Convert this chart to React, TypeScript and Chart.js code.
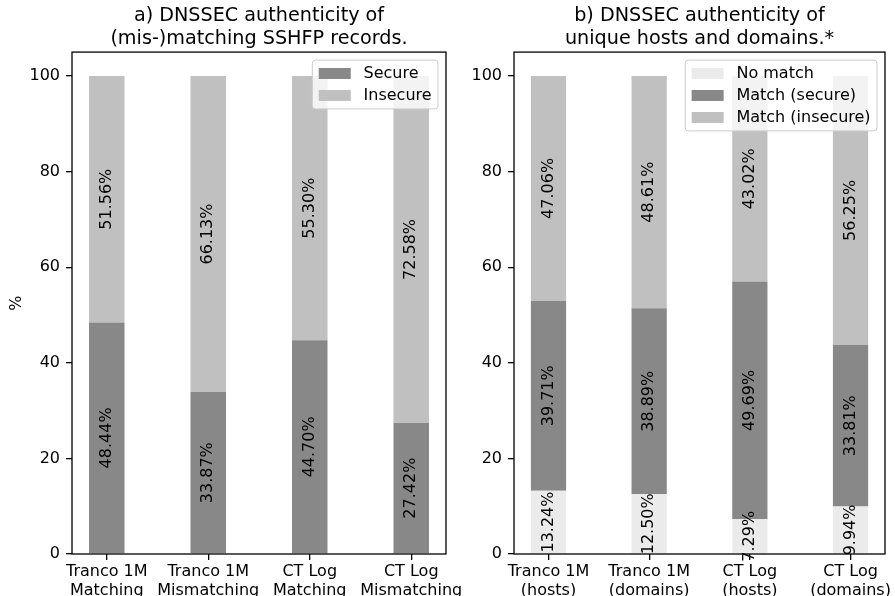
import React, { useEffect, useRef } from "react";
import { Chart, registerables } from "chart.js";

Chart.register(...registerables);

// ---- data ----
const leftCategories = [
  ["Tranco 1M", "Matching"],
  ["Tranco 1M", "Mismatching"],
  ["CT Log", "Matching"],
  ["CT Log", "Mismatching"],
];
const leftSecure = [48.44, 33.87, 44.7, 27.42];
const leftInsecure = [51.56, 66.13, 55.3, 72.58];

const rightCategories = [
  ["Tranco 1M", "(hosts)"],
  ["Tranco 1M", "(domains)"],
  ["CT Log", "(hosts)"],
  ["CT Log", "(domains)"],
];
const rightNoMatch = [13.24, 12.5, 7.29, 9.94];
const rightSecure = [39.71, 38.89, 49.69, 33.81];
const rightInsecure = [47.06, 48.61, 43.02, 56.25];

const yTicks = [0, 20, 40, 60, 80, 100];

const leftTitle = ["a) DNSSEC authenticity of", "(mis-)matching SSHFP records."];
const rightTitle = ["b) DNSSEC authenticity of", "unique hosts and domains.*"];

// ---- styles ----
const FONT = "'DejaVu Sans', sans-serif";
const DARK = "#888888";
const LIGHT = "#c0c0c0";
const PALE = "#ebebeb";
const W = 895;
const H = 596;

const decorPlugin = {
  id: "decor",
  afterDatasetsDraw(chart: any) {
    const ctx = chart.ctx as CanvasRenderingContext2D;
    const a = chart.chartArea;
    // frame (spines)
    ctx.save();
    ctx.strokeStyle = "#000";
    ctx.lineWidth = 1.3;
    ctx.strokeRect(a.left, a.top, a.right - a.left, a.bottom - a.top);
    ctx.restore();

    // value labels
    ctx.save();
    ctx.font = `16px ${FONT}`;
    ctx.fillStyle = "#000";
    ctx.textAlign = "center";
    ctx.textBaseline = "middle";
    chart.data.datasets.forEach((ds: any, di: number) => {
      const meta = chart.getDatasetMeta(di);
      meta.data.forEach((bar: any, i: number) => {
        const v = ds.data[i].y as number;
        const p = bar.getProps(["x", "y", "base"], true);
        ctx.save();
        ctx.translate(p.x, (p.y + p.base) / 2);
        ctx.rotate(-Math.PI / 2);
        ctx.fillText(v.toFixed(2) + "%", 0, 0);
        ctx.restore();
      });
    });
    ctx.restore();

    // legend (upper right, inside axes)
    ctx.save();
    ctx.font = `16px ${FONT}`;
    const items = chart.data.datasets.map((d: any) => ({ label: d.label, color: d.backgroundColor }));
    const maxW = Math.max(...items.map((it: any) => ctx.measureText(it.label).width));
    const pad = 6.4;
    const sw = 32;
    const sh = 11;
    const gap = 12.8;
    const rowH = 14;
    const rowGap = 8;
    const bw = pad + sw + gap + maxW + pad;
    const bh = 2 * pad + items.length * rowH + (items.length - 1) * rowGap;
    const bx = a.right - 8 - bw;
    const by = a.top + 8;
    ctx.beginPath();
    ctx.roundRect(bx, by, bw, bh, 3);
    ctx.fillStyle = "rgba(255,255,255,0.8)";
    ctx.fill();
    ctx.strokeStyle = "#cccccc";
    ctx.lineWidth = 1;
    ctx.stroke();
    items.forEach((it: any, i: number) => {
      const cy = by + pad + rowH / 2 + i * (rowH + rowGap);
      ctx.fillStyle = it.color;
      ctx.fillRect(bx + pad, cy - sh / 2, sw, sh);
      ctx.fillStyle = "#000";
      ctx.textAlign = "left";
      ctx.textBaseline = "middle";
      ctx.fillText(it.label, bx + pad + sw + gap, cy);
    });
    ctx.restore();
  },
};

function makeConfig(opts: {
  title: string[];
  categories: string[][];
  series: { label: string; values: number[]; color: string }[];
  yLabel: string | null;
  padLeft: number;
  padRight: number;
  yWidth: number;
}): any {
  const n = opts.categories.length;
  const tickFont = { family: FONT, size: 16 };
  return {
    type: "bar",
    data: {
      datasets: opts.series.map((s) => ({
        label: s.label,
        data: s.values.map((v, i) => ({ x: i, y: v })),
        backgroundColor: s.color,
        borderWidth: 0,
        categoryPercentage: 1,
        barPercentage: 0.35,
      })),
    },
    options: {
      responsive: false,
      animation: false,
      events: [],
      layout: { padding: { left: opts.padLeft, right: opts.padRight, top: 0, bottom: 0 } },
      plugins: {
        legend: { display: false },
        tooltip: { enabled: false },
        title: {
          display: true,
          text: opts.title,
          fullSize: false,
          color: "#000",
          font: { family: FONT, size: 19.2, weight: "normal", lineHeight: 1.2 },
          padding: { top: 4, bottom: 2 },
        },
      },
      scales: {
        x: {
          type: "linear",
          stacked: true,
          offset: false,
          min: -0.3425,
          max: n - 1 + 0.3425,
          afterBuildTicks: (s: any) => {
            s.ticks = opts.categories.map((_, i) => ({ value: i }));
          },
          afterFit: (s: any) => {
            s.height = 42;
          },
          ticks: {
            autoSkip: false,
            maxRotation: 0,
            minRotation: 0,
            color: "#000",
            font: tickFont,
            padding: 2,
            callback: (_v: any, i: number) => opts.categories[i],
          },
          grid: {
            display: true,
            offset: false,
            drawOnChartArea: false,
            drawTicks: true,
            tickLength: 6,
            color: "#000",
            lineWidth: 1.3,
          },
          border: { display: false },
        },
        y: {
          type: "linear",
          stacked: true,
          min: 0,
          max: 105,
          afterBuildTicks: (s: any) => {
            s.ticks = yTicks.map((v) => ({ value: v }));
          },
          afterFit: (s: any) => {
            s.width = opts.yWidth;
          },
          ticks: { color: "#000", font: tickFont, padding: 6 },
          grid: {
            display: true,
            drawOnChartArea: false,
            drawTicks: true,
            tickLength: 6,
            color: "#000",
            lineWidth: 1.3,
          },
          border: { display: false },
          title: {
            display: !!opts.yLabel,
            text: opts.yLabel || "",
            color: "#000",
            font: { family: FONT, size: 16, lineHeight: 1.2 },
            padding: { top: 7, bottom: 0 },
          },
        },
      },
    },
    plugins: [decorPlugin],
  };
}

export default function App() {
  const leftRef = useRef<HTMLCanvasElement>(null);
  const rightRef = useRef<HTMLCanvasElement>(null);

  useEffect(() => {
    const left = new Chart(
      leftRef.current!,
      makeConfig({
        title: leftTitle,
        categories: leftCategories,
        series: [
          { label: "Secure", values: leftSecure, color: DARK },
          { label: "Insecure", values: leftInsecure, color: LIGHT },
        ],
        yLabel: "%",
        padLeft: 0,
        padRight: W - 446,
        yWidth: 72,
      })
    );
    const right = new Chart(
      rightRef.current!,
      makeConfig({
        title: rightTitle,
        categories: rightCategories,
        series: [
          { label: "No match", values: rightNoMatch, color: PALE },
          { label: "Match (secure)", values: rightSecure, color: DARK },
          { label: "Match (insecure)", values: rightInsecure, color: LIGHT },
        ],
        yLabel: null,
        padLeft: 514 - 60,
        padRight: W - 885,
        yWidth: 60,
      })
    );
    return () => {
      left.destroy();
      right.destroy();
    };
  }, []);

  return (
    <div
      style={{
        position: "fixed",
        left: 0,
        top: 0,
        width: W,
        height: H,
        background: "#fff",
        overflow: "hidden",
      }}
    >
      <canvas ref={leftRef} width={W} height={H} style={{ position: "absolute", left: 0, top: 0 }} />
      <canvas ref={rightRef} width={W} height={H} style={{ position: "absolute", left: 0, top: 0 }} />
    </div>
  );
}
